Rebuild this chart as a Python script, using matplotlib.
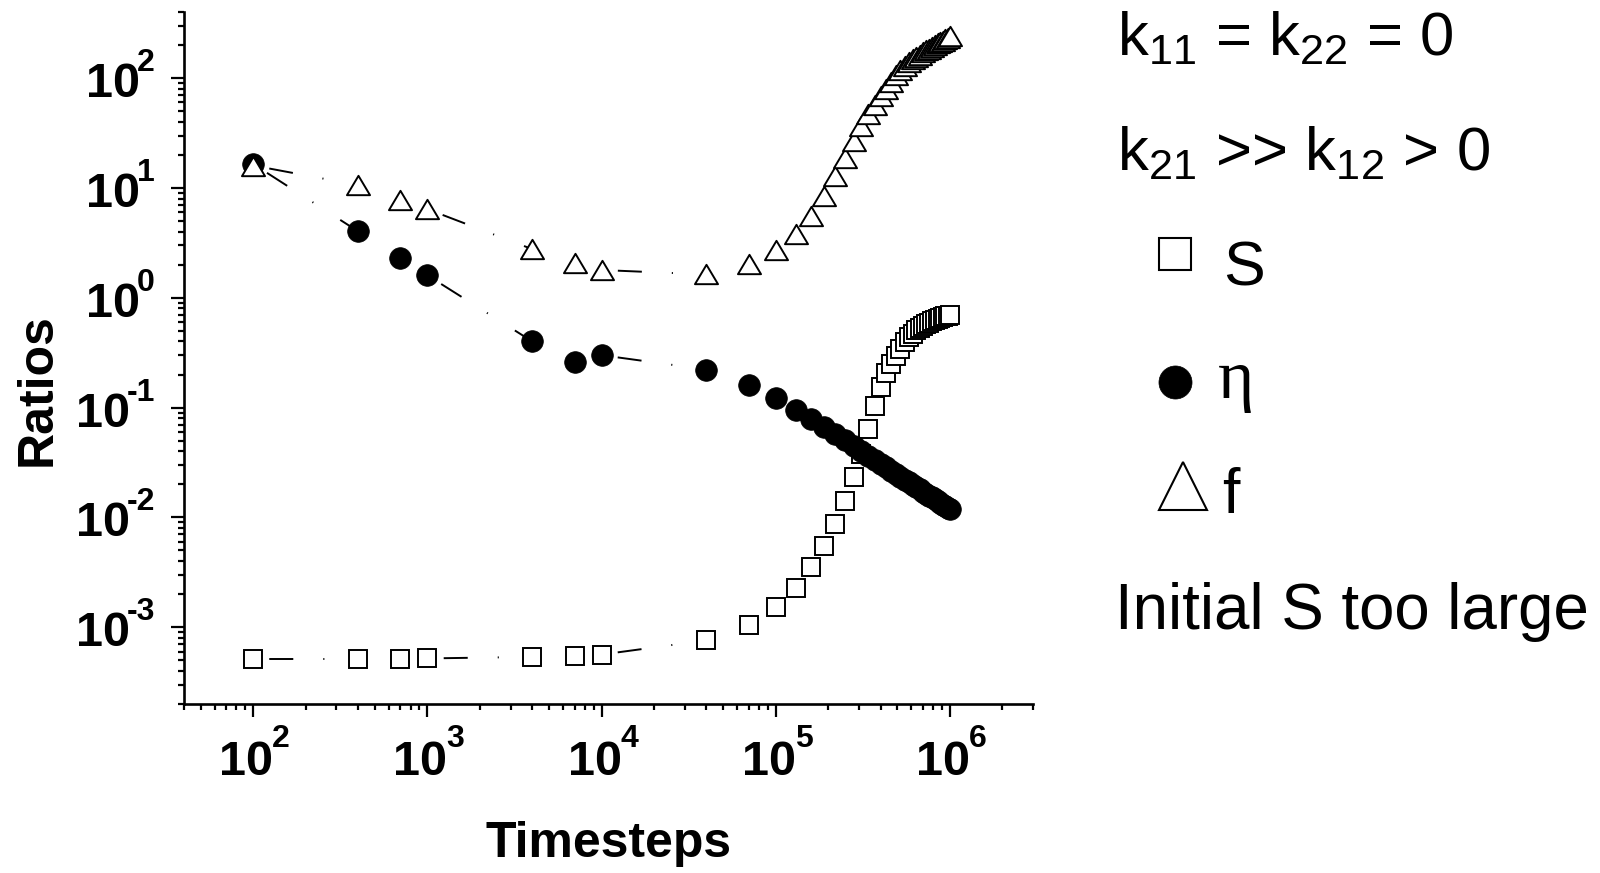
import numpy as np
import matplotlib
matplotlib.use('Agg')
import matplotlib.pyplot as plt
from matplotlib.lines import Line2D
from matplotlib.path import Path
from matplotlib.ticker import LogLocator, NullFormatter

plt.rcParams['font.family'] = ['Liberation Sans', 'DejaVu Sans']
plt.rcParams['mathtext.fontset'] = 'custom'
plt.rcParams['mathtext.rm'] = 'Liberation Sans'
plt.rcParams['mathtext.it'] = 'Liberation Sans:italic'
plt.rcParams['lines.scale_dashes'] = False

# time steps of the simulation
timesteps = [1e2, 4e2, 7e2, 1e3, 4e3, 7e3, 1e4, 4e4, 7e4, 1e5,
             1.3e5, 1.6e5, 1.9e5, 2.2e5, 2.5e5, 2.8e5, 3.1e5, 3.4e5, 3.7e5, 4.0e5,
             4.3e5, 4.6e5, 4.9e5, 5.2e5, 5.5e5, 5.8e5, 6.1e5, 6.4e5, 6.7e5, 7.0e5,
             7.3e5, 7.6e5, 7.9e5, 8.2e5, 8.5e5, 8.8e5, 9.1e5, 9.4e5, 9.7e5, 1.0e6]

S_ratio = [5.15e-4, 5.15e-4, 5.15e-4, 5.2e-4, 5.37e-4, 5.52e-4, 5.64e-4, 7.6e-4, 1.05e-3, 1.53e-3,
           2.29e-3, 3.53e-3, 5.48e-3, 8.78e-3, 0.0141, 0.0231, 0.0376, 0.0637, 0.104, 0.153,
           0.206, 0.248, 0.297, 0.342, 0.394, 0.437, 0.469, 0.504, 0.531, 0.554,
           0.574, 0.593, 0.609, 0.625, 0.640, 0.653, 0.665, 0.676, 0.685, 0.694]

eta_ratio = [16.5, 4.02, 2.30, 1.60, 0.40, 0.258, 0.30, 0.222, 0.161, 0.122,
             0.0955, 0.0785, 0.0669, 0.0573, 0.0502, 0.0446, 0.0401, 0.0364, 0.0333, 0.0307,
             0.0285, 0.0266, 0.0249, 0.0234, 0.0221, 0.0209, 0.0198, 0.0189, 0.0180, 0.0172,
             0.0165, 0.0158, 0.0152, 0.0146, 0.0141, 0.0136, 0.0131, 0.0127, 0.0123, 0.0119]

f_ratio = [16.0, 10.6, 7.74, 6.41, 2.77, 2.06, 1.79, 1.63, 2.02, 2.72,
           3.79, 5.56, 8.36, 12.9, 18.6, 26.9, 36.9, 47.1, 56.9, 68.4,
           80, 93, 106, 118, 129, 139, 148, 156, 164, 172,
           179, 186, 193, 200, 207, 213, 220, 227, 234, 241]

x_decades = [2, 3, 4, 5, 6]
y_decades = [-3, -2, -1, 0, 1, 2]

W, H = 1600., 873.
PT = 0.72  # points per pixel at dpi 100

# open triangle a bit wider than tall
tri = Path([(-1., -0.84), (1., -0.84), (0., 0.84), (-1., -0.84)], closed=True)


def draw_segments(ax, xs, ys):
    # origin style dash-dot, pattern restarts at every point, short gaps stay empty
    for x0, x1, y0, y1 in zip(xs[:-1], xs[1:], ys[:-1], ys[1:]):
        if np.log10(x1 / x0) < 0.5:
            continue
        ax.plot([x0, x1], [y0, y1], color='black', lw=1.4, solid_capstyle='butt',
                linestyle=(51.0, (17.3, 21.6, 0.8, 23.0)), zorder=1)


def power_labels(ax):
    # "10" plus a raised exponent, written as two texts like the original
    for d in x_decades:
        ten = ax.annotate('10', xy=(10.0 ** d, 0), xycoords=('data', 'axes fraction'),
                          xytext=(-7 * PT, -71 * PT), textcoords='offset points',
                          ha='center', va='baseline', fontsize=35, fontweight='bold')
        ax.annotate(str(d), xy=(1, 1), xycoords=ten, xytext=(-1 * PT, 16 * PT),
                    textcoords='offset points', ha='left', va='top',
                    fontsize=23, fontweight='bold')
    for d in y_decades:
        sup = ax.annotate(str(d), xy=(0, 10.0 ** d), xycoords=('axes fraction', 'data'),
                          xytext=(-29 * PT, 30 * PT), textcoords='offset points',
                          ha='right', va='top', fontsize=23, fontweight='bold')
        ax.annotate('10', xy=(0, 1), xycoords=sup, xytext=(3 * PT, -14 * PT),
                    textcoords='offset points', ha='right', va='top',
                    fontsize=35, fontweight='bold')


fig = plt.figure(figsize=(16, 8.73), dpi=100)
ax = fig.add_axes([184 / W, 169 / H, 849 / W, 692 / H])
ax.set_xscale('log')
ax.set_yscale('log')
ax.set_xlim(40, 3e6)
ax.set_ylim(2e-4, 400)

for series in (S_ratio, eta_ratio, f_ratio):
    draw_segments(ax, timesteps, series)

ax.plot(timesteps, S_ratio, ls='none', marker='s', ms=12.5, mfc='white', mec='black', mew=1.4, zorder=2)
ax.plot(timesteps, eta_ratio, ls='none', marker='o', ms=15.6, mfc='black', mec='black', mew=0.5, zorder=3)
ax.plot(timesteps, f_ratio, ls='none', marker=tri, ms=16.6, mfc='white', mec='black', mew=1.4, zorder=4)

for side in ('top', 'right'):
    ax.spines[side].set_visible(False)
for side in ('left', 'bottom'):
    ax.spines[side].set_linewidth(1.9)

for axis in (ax.xaxis, ax.yaxis):
    axis.set_major_locator(LogLocator(base=10, numticks=20))
    axis.set_minor_locator(LogLocator(base=10, subs=np.arange(2, 10), numticks=20))
    axis.set_major_formatter(NullFormatter())
    axis.set_minor_formatter(NullFormatter())

ax.tick_params(which='major', direction='out', length=9.2, width=1.6)
ax.tick_params(which='minor', direction='out', length=4.6, width=1.6)
power_labels(ax)

ax.set_xlabel('Timesteps', fontsize=36, fontweight='bold', va='baseline')
ax.xaxis.set_label_coords(0.5, -0.221)
ax.set_ylabel('Ratios', fontsize=36, fontweight='bold', va='center')
ax.yaxis.set_label_coords(-0.172, 0.454)

# legend / annotation block on the right
fig.text(1117 / W, 1 - 55 / H, r'k$_{11}$ = k$_{22}$ = 0', fontsize=44.5, va='baseline')
fig.text(1117 / W, 1 - 170 / H, r'k$_{21}$ >> k$_{12}$ > 0', fontsize=44.5, va='baseline')

fig.add_artist(Line2D([1175 / W], [1 - 253.5 / H], transform=fig.transFigure, ls='none',
                      marker='s', ms=22.5, mfc='white', mec='black', mew=1.5))
fig.text(1223 / W, 1 - 285 / H, 'S', fontsize=45, va='baseline')

fig.add_artist(Line2D([1175 / W], [1 - 382 / H], transform=fig.transFigure, ls='none',
                      marker='o', ms=23.8, mfc='black', mec='black', mew=0.5))
fig.text(1218 / W, 1 - 398 / H, 'η', fontsize=50, va='baseline',
         family=['Liberation Serif', 'DejaVu Serif'])

fig.add_artist(Line2D([1182.5 / W], [1 - 486 / H], transform=fig.transFigure, ls='none',
                      marker='^', ms=34, mfc='white', mec='black', mew=1.5))
fig.text(1222 / W, 1 - 513 / H, 'f', fontsize=45, va='baseline')

fig.text(1115 / W, 1 - 629 / H, 'Initial S too large', fontsize=45.8, va='baseline')

fig.savefig('out.png', dpi=100)
